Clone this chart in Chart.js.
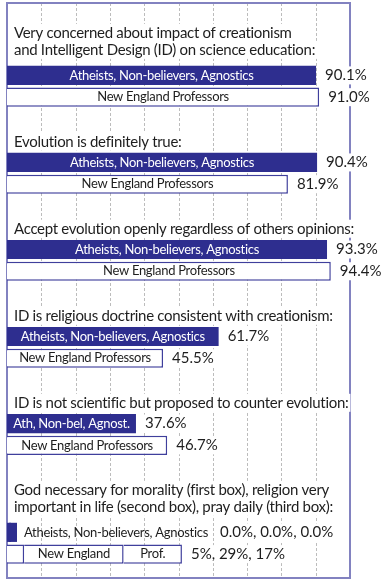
<!DOCTYPE html>
<html>
<head>
<meta charset="utf-8">
<script src="https://cdn.jsdelivr.net/npm/chart.js@4.4.0/dist/chart.umd.min.js"></script>
<style>
    html, body { margin: 0; padding: 0; background: #fff; }
    canvas { display: block; }
</style>
</head>
<body>
<canvas id="graficoBarras" width="391" height="584"></canvas>
<script>
// Perguntas (cada item do array interno é uma linha de texto)
const perguntas = [
    ['Very concerned about impact of creationism', 'and Intelligent Design (ID) on science education:'],
    ['Evolution is definitely true:'],
    ['Accept evolution openly regardless of others opinions:'],
    ['ID is religious doctrine consistent with creationism:'],
    ['ID is not scientific but proposed to counter evolution:'],
    ['God necessary for morality (first box), religion very', 'important in life (second box), pray daily (third box):']
];

// Valores em %, uma lista por caixa (só a última pergunta tem 3 caixas)
const ateus1 = [90.1, 90.4, 93.3, 61.7, 37.6, 0.0];
const ateus2 = [null, null, null, null, null, 0.0];
const ateus3 = [null, null, null, null, null, 0.0];
const professores1 = [91.0, 81.9, 94.4, 45.5, 46.7, 5];
const professores2 = [null, null, null, null, null, 29];
const professores3 = [null, null, null, null, null, 17];

// casas decimais do rótulo de valor
const casasAteus = [1, 1, 1, 1, 1, 1];
const casasProfessores = [1, 1, 1, 1, 1, 0];

// Texto dentro das caixas
const rotulosAteus = [
    ['Atheists, Non-believers, Agnostics'],
    ['Atheists, Non-believers, Agnostics'],
    ['Atheists, Non-believers, Agnostics'],
    ['Atheists, Non-believers, Agnostics'],
    ['Ath, Non-bel, Agnost.'],
    ['Atheists, Non-believers, Agnostics']
];
const rotulosProfessores = [
    ['New England Professors'],
    ['New England Professors'],
    ['New England Professors'],
    ['New England Professors'],
    ['New England Professors'],
    ['', 'New England', 'Prof.']
];

const escalaX = [0, 100, 10]; // min, max, passo da grade

// Monta as linhas do eixo y: título(s), ateus, professores, espaço
const linhas = [];
perguntas.forEach((p, q) => {
    p.forEach((texto, l) => linhas.push({ tipo: 'titulo', q, l }));
    linhas.push({ tipo: 'ateus', q });
    linhas.push({ tipo: 'prof', q });
    if (q < perguntas.length - 1) linhas.push({ tipo: 'vazio', q });
});

function serie(valores, tipo) {
    return linhas.map(l => l.tipo === tipo ? valores[l.q] : null);
}

const grupos = {
    ateus: [ateus1, ateus2, ateus3],
    prof: [professores1, professores2, professores3]
};

const corEscura = '#2e2e8f';
const corBorda = '#3f3f9c';
const corTexto = '#1e1e1e';
const fonte = 'Lato';

const datasets = [];
grupos.ateus.forEach((valores, s) => {
    datasets.push({
        label: 'Atheists ' + (s + 1),
        data: serie(valores, 'ateus'),
        grupo: 'ateus',
        segmento: s,
        backgroundColor: corEscura,
        borderWidth: 0,
        minBarLength: 4
    });
});
grupos.prof.forEach((valores, s) => {
    datasets.push({
        label: 'Professors ' + (s + 1),
        data: serie(valores, 'prof'),
        grupo: 'prof',
        segmento: s,
        backgroundColor: '#ffffff',
        borderColor: corBorda,
        borderWidth: 1.5
    });
});

// Grade, moldura e títulos
const fundoPlugin = {
    id: 'fundo',
    beforeDatasetsDraw(chart) {
        const { ctx, chartArea, scales: { x, y } } = chart;
        const topo = chartArea.top - 18;
        const base = chartArea.bottom + 13;
        ctx.save();

        // grade tracejada
        ctx.strokeStyle = '#bcbcbc';
        ctx.lineWidth = 1;
        ctx.setLineDash([3, 2]);
        for (let v = escalaX[0] + escalaX[2]; v < escalaX[1]; v += escalaX[2]) {
            const px = Math.round(x.getPixelForValue(v)) + 0.5;
            ctx.beginPath();
            ctx.moveTo(px, topo);
            ctx.lineTo(px, base);
            ctx.stroke();
        }
        ctx.setLineDash([]);

        // moldura
        ctx.strokeStyle = '#8282c0';
        ctx.lineWidth = 2;
        ctx.strokeRect(chartArea.left, topo, chartArea.right - chartArea.left, base - topo);

        // títulos
        ctx.font = `15px ${fonte}`;
        ctx.letterSpacing = '-0.3px';
        ctx.textBaseline = 'middle';
        ctx.textAlign = 'left';
        perguntas.forEach((p, q) => {
            const r = linhas.findIndex(l => l.tipo === 'titulo' && l.q === q);
            const y0 = y.getPixelForValue(r);
            p.forEach((texto, l) => {
                const ty = y0 + 1 + l * 17;
                const tx = chartArea.left + 7;
                const w = ctx.measureText(texto).width;
                ctx.fillStyle = '#ffffff';
                ctx.fillRect(tx - 2, ty - 9, w + 4, 18);
                ctx.fillStyle = corTexto;
                ctx.fillText(texto, tx, ty);
            });
        });
        ctx.restore();
    }
};

// Texto nas caixas e valores à direita
const rotulosPlugin = {
    id: 'rotulos',
    afterDatasetsDraw(chart) {
        const { ctx } = chart;
        ctx.save();
        ctx.textBaseline = 'middle';
        linhas.forEach((linha, r) => {
            if (linha.tipo !== 'ateus' && linha.tipo !== 'prof') return;
            const rotulos = linha.tipo === 'ateus' ? rotulosAteus[linha.q] : rotulosProfessores[linha.q];
            const casas = linha.tipo === 'ateus' ? casasAteus[linha.q] : casasProfessores[linha.q];
            let fim = chart.chartArea.left;
            let yc = 0;
            const soltos = [];
            ctx.font = `13px ${fonte}`;
            ctx.letterSpacing = '-0.3px';
            chart.data.datasets.forEach((ds, d) => {
                if (ds.grupo !== linha.tipo || ds.data[r] == null) return;
                const barra = chart.getDatasetMeta(d).data[r];
                const ini = Math.min(barra.base, barra.x);
                const fimBarra = Math.max(barra.base, barra.x);
                yc = barra.y;
                fim = Math.max(fim, fimBarra);
                const texto = rotulos[ds.segmento] || '';
                if (!texto) return;
                const w = ctx.measureText(texto).width;
                if (w + 6 <= fimBarra - ini) {
                    ctx.fillStyle = linha.tipo === 'ateus' ? '#ffffff' : corTexto;
                    ctx.textAlign = 'center';
                    ctx.fillText(texto, (ini + fimBarra) / 2, yc);
                } else {
                    soltos.push(texto);
                }
            });

            // rótulos que não cabem vão depois da barra
            let cursor = fim + 7;
            ctx.textAlign = 'left';
            soltos.forEach(texto => {
                ctx.fillStyle = corTexto;
                ctx.fillText(texto, cursor, yc);
                cursor += ctx.measureText(texto).width + 12;
            });
            if (!soltos.length) cursor = fim + 9;

            const valores = grupos[linha.tipo]
                .map(v => v[linha.q])
                .filter(v => v != null)
                .map(v => v.toFixed(casas) + '%')
                .join(', ');
            ctx.font = `15px ${fonte}`;
            ctx.letterSpacing = '0px';
            const w = ctx.measureText(valores).width;
            ctx.fillStyle = '#ffffff';
            ctx.fillRect(cursor - 2, yc - 9, w + 4, 18);
            ctx.fillStyle = corTexto;
            ctx.fillText(valores, cursor, yc);
        });
        ctx.restore();
    }
};

const ctx = document.getElementById('graficoBarras').getContext('2d');
new Chart(ctx, {
    type: 'bar',
    data: {
        labels: linhas.map((l, i) => l.tipo + i),
        datasets: datasets
    },
    options: {
        responsive: false,
        animation: false,
        indexAxis: 'y',
        layout: { padding: { left: 7, right: 41, top: 21, bottom: 19 } },
        datasets: {
            bar: { categoryPercentage: 1, barPercentage: 0.88 }
        },
        scales: {
            x: {
                display: false,
                stacked: true,
                min: escalaX[0],
                max: escalaX[1]
            },
            y: {
                display: false,
                stacked: true
            }
        },
        plugins: {
            legend: { display: false },
            tooltip: { enabled: false },
            title: { display: false }
        }
    },
    plugins: [fundoPlugin, rotulosPlugin]
});
</script>
</body>
</html>
